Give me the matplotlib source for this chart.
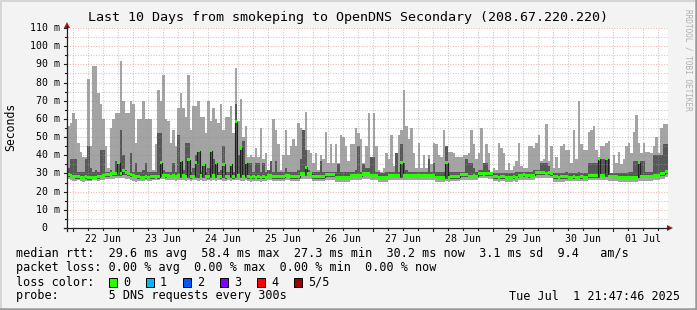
import numpy as np
import pandas as pd
import matplotlib
matplotlib.use("Agg")
import matplotlib.pyplot as plt
import matplotlib.dates as mdates
from matplotlib.patches import Rectangle, Polygon
from matplotlib.lines import Line2D
from matplotlib.transforms import blended_transform_factory

plt.rcParams['font.family'] = ['DejaVu Sans Mono', 'DejaVu Sans']

# ── Data: hourly smoke columns (ms) ─────────────────────────────────────────
start = pd.Timestamp('2025-06-21 21:47:46')
end = pd.Timestamp('2025-07-01 21:47:46')

smoke_max = [
    56, 58, 63, 60, 47, 42, 39, 39, 82, 45, 89, 89, 74, 68, 60, 45, 33, 55, 60, 63,
    63, 92, 70, 63, 63, 70, 68, 47, 60, 60, 70, 60, 60, 60, 32, 46, 76, 70, 84, 60,
    59, 47, 54, 45, 66, 74, 66, 61, 84, 54, 67, 67, 70, 61, 61, 52, 70, 59, 66, 60,
    58, 68, 54, 61, 61, 67, 52, 88, 59, 71, 50, 56, 39, 40, 39, 44, 39, 55, 38, 41,
    32, 37, 60, 54, 46, 32, 40, 54, 40, 45, 49, 45, 58, 55, 54, 64, 43, 41, 36, 41,
    32, 40, 38, 53, 36, 46, 36, 46, 36, 51, 50, 45, 37, 46, 46, 55, 52, 49, 36, 45,
    63, 39, 63, 45, 32, 31, 33, 41, 38, 51, 34, 41, 51, 54, 76, 56, 49, 55, 41, 33,
    47, 33, 40, 33, 40, 35, 47, 46, 40, 39, 54, 45, 42, 42, 41, 39, 39, 39, 40, 40,
    41, 54, 46, 38, 41, 55, 36, 46, 41, 31, 33, 32, 47, 44, 41, 32, 36, 32, 34, 37,
    47, 34, 33, 33, 45, 45, 44, 47, 51, 37, 38, 57, 37, 45, 33, 39, 33, 45, 46, 43,
    43, 36, 54, 38, 70, 46, 43, 43, 53, 54, 56, 43, 39, 45, 45, 47, 48, 30, 40, 36,
    42, 35, 38, 45, 47, 41, 53, 62, 47, 41, 47, 42, 42, 41, 45, 50, 41, 55, 57, 57,
]

smoke_min = [
    27.0, 26.5, 26.0, 26.0, 26.5, 26.0, 25.5, 26.0, 26.0, 26.0, 26.5, 26.5, 26.0, 26.5, 26.5, 27.0, 27.0, 27.0, 27.0, 27.5,
    27.5, 27.5, 27.5, 27.0, 27.0, 26.5, 26.0, 25.5, 26.0, 26.0, 26.0, 26.5, 26.0, 26.0, 26.5, 26.5, 26.5, 27.0, 27.0, 26.5,
    26.5, 26.5, 26.5, 26.0, 26.5, 26.5, 26.5, 26.0, 26.5, 26.0, 26.5, 26.5, 26.0, 26.5, 26.0, 26.0, 26.5, 26.0, 26.5, 26.0,
    26.5, 26.5, 26.0, 26.0, 26.5, 26.0, 26.5, 26.5, 26.5, 26.0, 26.0, 26.5, 26.0, 25.5, 26.0, 26.0, 26.0, 25.5, 26.0, 26.0,
    26.5, 26.5, 26.0, 26.0, 26.0, 26.0, 26.0, 26.5, 26.5, 26.0, 26.0, 26.0, 26.0, 27.0, 27.0, 27.0, 27.0, 27.0, 26.0, 26.0,
    26.0, 26.0, 26.0, 26.5, 26.5, 26.5, 26.5, 25.5, 25.5, 25.5, 25.5, 25.5, 25.5, 26.5, 26.5, 26.5, 26.5, 26.5, 27.0, 27.0,
    27.0, 26.5, 26.5, 26.5, 25.5, 25.5, 25.5, 25.5, 26.5, 26.5, 26.5, 26.5, 26.5, 26.5, 26.5, 26.5, 26.5, 26.5, 26.5, 26.5,
    26.5, 26.5, 26.5, 26.5, 26.5, 26.5, 26.5, 25.5, 25.5, 25.5, 25.5, 26.0, 25.5, 26.0, 26.0, 26.0, 26.0, 26.5, 26.5, 26.5,
    26.5, 26.5, 26.5, 26.5, 27.5, 27.5, 27.5, 27.5, 27.0, 27.0, 26.0, 26.0, 25.5, 26.0, 26.0, 25.5, 25.5, 25.5, 26.0, 25.5,
    26.5, 26.5, 26.5, 26.5, 26.5, 26.5, 26.5, 27.5, 27.5, 27.5, 27.5, 27.5, 27.5, 27.5, 25.5, 25.5, 25.5, 25.5, 25.5, 26.0,
    26.0, 26.0, 26.0, 26.0, 26.0, 26.0, 26.0, 26.0, 26.5, 26.5, 26.5, 26.5, 26.5, 26.5, 26.5, 26.5, 26.0, 26.0, 26.0, 26.0,
    25.5, 25.5, 25.5, 25.5, 25.5, 25.5, 25.5, 25.5, 26.0, 26.0, 26.0, 26.0, 26.0, 26.0, 26.5, 26.5, 26.5, 27.0, 27.0, 28.0,
]

dark_top = [
    33, 38, 38, 38, 31, 31, 31, 38, 45, 33, 31, 32, 31, 43, 43, 31, 31, 32, 31, 37,
    37, 54, 40, 32, 31, 41, 31, 36, 31, 31, 32, 36, 31, 31, 31, 31, 52, 52, 32, 31,
    31, 31, 36, 31, 51, 37, 32, 47, 47, 31, 33, 40, 43, 31, 36, 31, 33, 43, 38, 36,
    31, 32, 45, 31, 31, 36, 31, 68, 40, 44, 48, 36, 36, 36, 31, 36, 36, 31, 36, 31,
    32, 37, 31, 37, 31, 31, 31, 33, 31, 31, 31, 31, 32, 38, 54, 43, 32, 31, 31, 31,
    31, 37, 31, 31, 31, 31, 31, 31, 35, 31, 31, 31, 31, 31, 31, 32, 45, 31, 35, 33,
    33, 39, 39, 31, 31, 30, 30, 31, 31, 31, 31, 41, 31, 46, 36, 32, 31, 31, 31, 31,
    31, 31, 31, 31, 38, 31, 36, 31, 31, 31, 31, 45, 31, 31, 31, 31, 31, 31, 31, 38,
    36, 36, 33, 31, 32, 32, 36, 36, 32, 31, 30, 30, 30, 30, 30, 30, 30, 30, 30, 31,
    31, 31, 31, 31, 31, 31, 32, 32, 32, 36, 36, 36, 34, 31, 30, 30, 30, 30, 30, 31,
    30, 30, 30, 30, 31, 30, 30, 30, 36, 36, 36, 36, 37, 38, 38, 38, 38, 30, 30, 30,
    30, 30, 30, 30, 31, 31, 37, 37, 37, 37, 37, 31, 31, 31, 40, 40, 40, 40, 46, 46,
]

dark_bot = [
    28.3, 27.8, 27.3, 27.1, 27.0, 26.8, 26.8, 27.0, 26.6, 26.6, 26.8, 26.8, 27.0, 27.3, 27.8, 28.0, 28.3, 28.5, 28.6, 28.8,
    28.8, 28.6, 29.0, 29.0, 28.8, 28.1, 27.8, 27.3, 27.0, 26.8, 26.8, 27.0, 26.8, 27.1, 27.0, 27.3, 27.1, 27.8, 27.8, 27.6,
    27.4, 27.3, 27.4, 27.3, 27.4, 27.4, 27.4, 27.3, 27.4, 27.2, 27.3, 27.4, 27.4, 27.4, 27.4, 27.3, 27.2, 27.4, 27.4, 27.4,
    27.3, 27.2, 27.4, 27.1, 27.3, 27.4, 27.2, 27.4, 27.4, 27.4, 27.3, 27.4, 27.1, 26.8, 26.9, 26.8, 27.0, 26.8, 26.9, 26.8,
    27.4, 27.4, 27.0, 27.0, 27.0, 27.0, 27.0, 27.8, 27.8, 27.0, 27.0, 27.0, 27.0, 28.5, 28.5, 28.5, 28.5, 28.5, 27.0, 27.0,
    27.0, 27.0, 27.0, 28.1, 28.1, 28.1, 28.1, 26.7, 26.7, 26.7, 26.7, 26.7, 26.7, 27.4, 27.4, 27.4, 27.4, 27.4, 28.5, 28.5,
    28.5, 27.4, 27.4, 27.4, 26.7, 26.7, 26.7, 26.7, 27.4, 27.4, 27.4, 27.4, 27.4, 27.4, 27.4, 27.4, 27.4, 27.4, 27.4, 27.4,
    27.8, 27.8, 27.8, 27.8, 27.8, 27.8, 27.8, 26.8, 26.8, 26.8, 26.8, 26.8, 26.8, 27.0, 27.0, 27.0, 27.0, 28.1, 28.1, 28.1,
    27.3, 27.3, 27.4, 27.3, 28.8, 28.8, 28.9, 28.8, 28.6, 28.8, 27.1, 27.1, 26.8, 27.1, 27.1, 26.8, 26.8, 26.8, 27.0, 26.8,
    27.8, 27.8, 28.0, 27.8, 27.6, 27.8, 27.8, 29.2, 29.2, 29.4, 29.2, 29.0, 29.2, 28.8, 27.0, 27.0, 26.8, 27.0, 27.0, 27.2,
    26.8, 26.8, 27.0, 26.8, 26.8, 27.0, 26.8, 26.8, 27.6, 27.6, 27.6, 27.6, 27.6, 27.8, 27.8, 27.8, 27.3, 27.3, 27.3, 27.3,
    26.8, 26.8, 26.8, 26.8, 26.8, 26.8, 26.8, 26.8, 27.3, 27.3, 27.3, 27.3, 27.3, 27.3, 27.8, 27.8, 27.8, 28.6, 28.6, 29.8,
]

median_rtt = [
    29.5, 29.0, 28.5, 28.3, 28.2, 28.0, 28.0, 28.2, 27.8, 27.8, 28.0, 28.0, 28.2, 28.5, 29.0, 29.2, 29.5, 29.7, 29.8, 30.0,
    36.0, 29.8, 31.5, 30.5, 30.0, 29.3, 29.0, 28.5, 28.2, 28.0, 28.0, 28.2, 28.0, 28.3, 28.2, 28.5, 28.3, 36.0, 29.0, 28.8,
    28.6, 28.5, 28.6, 28.5, 28.6, 37.0, 28.6, 28.5, 37.5, 28.4, 28.5, 36.0, 42.5, 28.6, 35.0, 28.5, 28.4, 42.5, 28.6, 36.0,
    28.5, 28.4, 35.0, 28.3, 28.5, 35.0, 28.4, 58.5, 28.6, 44.0, 28.5, 36.0, 28.3, 28.0, 28.1, 28.0, 28.2, 28.0, 28.1, 28.0,
    28.6, 28.6, 28.2, 28.2, 28.2, 28.2, 28.2, 29.0, 29.0, 28.2, 28.2, 28.2, 28.2, 29.7, 29.7, 33.4, 29.7, 29.7, 28.2, 28.2,
    28.2, 28.2, 28.2, 29.3, 29.3, 29.3, 29.3, 27.9, 27.9, 27.9, 27.9, 27.9, 27.9, 28.6, 28.6, 28.6, 28.6, 28.6, 29.7, 29.7,
    29.7, 28.6, 28.6, 28.6, 27.9, 27.9, 27.9, 27.9, 28.6, 28.6, 28.6, 28.6, 28.6, 36.0, 28.6, 28.6, 28.6, 28.6, 28.6, 28.6,
    29.0, 29.0, 29.0, 29.0, 29.0, 29.0, 29.0, 28.0, 28.0, 28.0, 28.0, 36.0, 28.0, 28.2, 28.2, 28.2, 28.2, 29.3, 29.3, 29.3,
    28.5, 28.5, 28.6, 28.5, 30.0, 30.0, 30.1, 30.0, 29.8, 30.0, 28.3, 28.3, 28.0, 28.3, 28.3, 28.0, 28.0, 28.0, 28.2, 28.0,
    29.0, 29.0, 29.2, 29.0, 28.8, 29.0, 29.0, 30.4, 30.4, 30.6, 30.4, 30.2, 30.4, 30.0, 28.2, 28.2, 28.0, 28.2, 28.2, 28.4,
    28.0, 28.0, 28.2, 28.0, 28.0, 28.2, 28.0, 28.0, 28.8, 28.8, 28.8, 28.8, 38.0, 29.0, 29.0, 38.0, 28.5, 28.5, 28.5, 28.5,
    28.0, 28.0, 28.0, 28.0, 28.0, 28.0, 28.0, 28.0, 36.0, 28.5, 28.5, 28.5, 28.5, 28.5, 29.0, 29.0, 29.0, 29.8, 29.8, 31.0,
]

ytick_vals = [0, 10, 20, 30, 40, 50, 60, 70, 80, 90, 100, 110]
ytick_labels = ["0", "10 m", "20 m", "30 m", "40 m", "50 m", "60 m",
                "70 m", "80 m", "90 m", "100 m", "110 m"]
day_labels = ["22 Jun", "23 Jun", "24 Jun", "25 Jun", "26 Jun",
              "27 Jun", "28 Jun", "29 Jun", "30 Jun", "01 Jul"]

loss_labels = ["0", "1", "2", "3", "4", "5/5"]
loss_colors = ["#26ff00", "#00b8ff", "#0059ff", "#7e00ff", "#ff0000", "#a00000"]

rtt_line = "median rtt:  29.6 ms avg  58.4 ms max  27.3 ms min  30.2 ms now  3.1 ms sd  9.4   am/s"
loss_line = "packet loss: 0.00 % avg  0.00 % max  0.00 % min  0.00 % now"
probe_line = "probe:       5 DNS requests every 300s"
stamp = "Tue Jul  1 21:47:46 2025"

# ── Figure setup ────────────────────────────────────────────────────────────
W, H = 697, 310
BG = '#f3f3f3'

def fx(x):
    return x / W

def fy(y):
    return 1 - y / H

fig = plt.figure(figsize=(W / 100, H / 100), dpi=100, facecolor=BG)
ax = fig.add_axes([fx(67), fy(228), 601 / W, 200 / H])
ax.set_facecolor('white')

times = pd.date_range(start, periods=len(smoke_max), freq='h')
x = mdates.date2num(times)
xe = np.append(x, x[-1] + 1 / 24)

def ext(a):
    a = np.asarray(a, dtype=float)
    return np.append(a, a[-1])

# smoke: outer pair light, inner pair dark
ax.fill_between(xe, ext(smoke_min), ext(smoke_max), step='post',
                color='#a4a4a4', linewidth=0, zorder=2)
ax.fill_between(xe, ext(dark_bot), ext(dark_top), step='post',
                color='#585858', linewidth=0, zorder=3)

# ── Grid (drawn over the smoke, like rrdtool) ───────────────────────────────
minor_c = (0.62, 0.62, 0.62, 0.55)
major_c = (0.92, 0.40, 0.40, 0.50)
dot = (0, (1, 1.5))
for v in range(5, 111, 5):
    c = major_c if v % 10 == 0 else minor_c
    ax.axhline(v, color=c, lw=0.75, ls=dot, zorder=4)

six_hours = pd.date_range('2025-06-22 00:00', end, freq='6h')
for t in six_hours:
    c = major_c if t.hour == 0 else minor_c
    ax.axvline(mdates.date2num(t), color=c, lw=0.75, ls=dot, zorder=4)

# median: dark step line with green loss-colour boxes
ax.step(xe, ext(median_rtt), where='post', color='#202020', lw=0.8, zorder=5)
ax.bar(x, 1.7, bottom=np.asarray(median_rtt) - 0.85, width=1 / 24, align='edge',
       color=loss_colors[0], linewidth=0, zorder=6)

ax.set_xlim(mdates.date2num(start), mdates.date2num(end))
ax.set_ylim(0, 110)
for s in ax.spines.values():
    s.set_visible(False)

noons = pd.date_range('2025-06-22 12:00', periods=len(day_labels), freq='D')
ax.set_xticks(mdates.date2num(noons), day_labels)
ax.tick_params(axis='x', length=0, pad=4.2, labelsize=7.1)
ax.set_yticks([])

# y tick labels, rrdtool style
ylab_tr = blended_transform_factory(fig.transFigure, ax.transData)
for v, lab in zip(ytick_vals, ytick_labels):
    xr = 59.5 if lab.endswith('m') else 47.5
    ax.text(fx(xr), v, lab, transform=ylab_tr, ha='right', va='center',
            fontsize=7.1, color='#000000', clip_on=False)

# axis lines, ticks and arrows
axis_c = '#202020'
arrow_c = '#a01818'
fig.add_artist(Line2D([fx(64), fx(668)], [fy(228), fy(228)], color=axis_c, lw=0.9))
fig.add_artist(Line2D([fx(67), fx(67)], [fy(231), fy(26)], color=axis_c, lw=0.9))
fig.add_artist(Polygon([[fx(667), fy(225)], [fx(673), fy(228)], [fx(667), fy(231)]],
                       closed=True, color=arrow_c, lw=0, transform=fig.transFigure))
fig.add_artist(Polygon([[fx(64), fy(28)], [fx(67), fy(22)], [fx(70), fy(28)]],
                       closed=True, color=arrow_c, lw=0, transform=fig.transFigure))

xt_tr = ax.get_xaxis_transform()
for t in six_hours:
    ln = 3.0 if t.hour == 0 else 1.8
    ax.plot([mdates.date2num(t)] * 2, [0, -ln / 200], transform=xt_tr,
            color=axis_c, lw=0.8, clip_on=False, zorder=7)
for v in range(0, 111, 5):
    ln = 3.0 if v % 10 == 0 else 1.8
    ax.plot([-ln / 601, 0], [v, v], transform=ax.get_yaxis_transform(),
            color=axis_c, lw=0.8, clip_on=False, zorder=7)

# ── Texts ───────────────────────────────────────────────────────────────────
fig.text(fx(347.5), fy(18), "Last 10 Days from smokeping to OpenDNS Secondary (208.67.220.220)",
         ha='center', va='center', fontsize=9.6)
fig.text(fx(11), fy(127), "Seconds", rotation=90, ha='center', va='center', fontsize=8.3)
fig.text(fx(688), fy(60), "RRDTOOL / TOBI OETIKER", rotation=270, ha='center', va='center',
         fontsize=5.6, color='#b0b0b0')

LEG = 8.5
fig.text(fx(16), fy(254), rtt_line, ha='left', va='center', fontsize=LEG)
fig.text(fx(16), fy(268), loss_line, ha='left', va='center', fontsize=LEG)
fig.text(fx(16), fy(282), "loss color:", ha='left', va='center', fontsize=LEG)
for i, (lab, col) in enumerate(zip(loss_labels, loss_colors)):
    bx = 108.5 + 37 * i
    fig.add_artist(Rectangle((fx(bx), fy(286.5)), 8.5 / W, 8.5 / H, facecolor=col,
                             edgecolor='black', lw=0.7, transform=fig.transFigure))
    fig.text(fx(bx + 14.5), fy(282), lab, ha='left', va='center', fontsize=LEG)
fig.text(fx(16), fy(296), probe_line, ha='left', va='center', fontsize=LEG)
fig.text(fx(680), fy(296), stamp, ha='right', va='center', fontsize=LEG)

# 3D-ish frame around the canvas
fig.add_artist(Line2D([0, 1], [fy(0.8), fy(0.8)], color='#d6d6d6', lw=1.4))
fig.add_artist(Line2D([fx(0.8), fx(0.8)], [0, 1], color='#d6d6d6', lw=1.4))
fig.add_artist(Line2D([0, 1], [fy(308.8), fy(308.8)], color='#9a9a9a', lw=1.8))
fig.add_artist(Line2D([fx(695.8), fx(695.8)], [0, 1], color='#9a9a9a', lw=1.8))

fig.savefig('out.png', dpi=100, facecolor=BG)
